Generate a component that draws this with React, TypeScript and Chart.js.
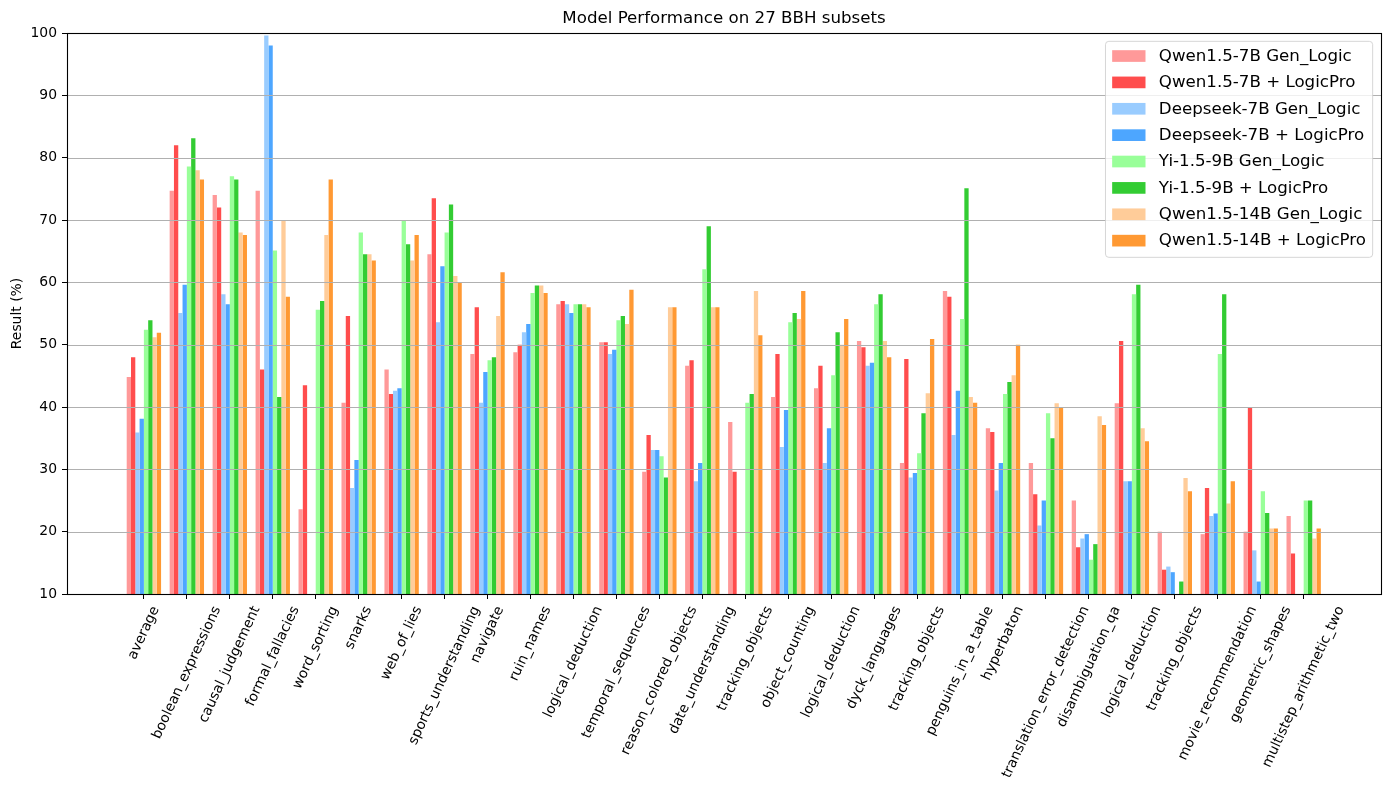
import React, { useEffect, useRef } from 'react';
import { Chart, registerables } from 'chart.js';

Chart.register(...registerables);

const categories = [
  'average', 'boolean_expressions', 'causal_judgement', 'formal_fallacies', 'word_sorting',
  'snarks', 'web_of_lies', 'sports_understanding', 'navigate', 'ruin_names',
  'logical_deduction', 'temporal_sequences', 'reason_colored_objects', 'date_understanding',
  'tracking_objects', 'object_counting', 'logical_deduction', 'dyck_languages',
  'tracking_objects', 'penguins_in_a_table', 'hyperbaton', 'translation_error_detection',
  'disambiguation_qa', 'logical_deduction', 'tracking_objects', 'movie_recommendation',
  'geometric_shapes', 'multistep_arithmetic_two',
];

const qwen7Gen = [44.8, 74.7, 74.0, 74.7, 23.6, 40.7, 46.0, 64.5, 48.5, 48.8, 56.5, 50.4, 29.6, 46.6, 37.6, 41.6, 43.0, 50.6, 31.0, 58.6, 36.6, 31.0, 25.0, 40.6, 20.0, 19.6, 20.0, 22.5];
const qwen7Pro = [48.0, 82.0, 72.0, 46.0, 43.5, 54.6, 42.1, 73.5, 56.0, 50.0, 57.0, 50.4, 35.5, 47.5, 29.6, 48.5, 46.6, 49.6, 47.7, 57.7, 36.0, 26.0, 17.5, 50.6, 13.9, 27.0, 39.9, 16.5];
const deepseekGen = [35.9, 55.1, 58.1, 99.6, null, 27.0, 42.6, 53.6, 40.7, 52.0, 56.5, 48.5, 33.1, 28.1, null, 33.6, 31.0, 46.6, 28.7, 35.5, 26.6, 21.0, 18.9, 28.1, 14.4, 22.5, 17.0, null];
const deepseekPro = [38.1, 59.6, 56.5, 98.0, null, 31.5, 43.0, 62.6, 45.6, 53.3, 55.1, 49.2, 33.1, 31.0, null, 39.5, 36.6, 47.1, 29.4, 42.6, 31.0, 25.0, 19.6, 28.1, 13.5, 22.9, 12.0, null];
const yiGen = [52.4, 78.6, 77.0, 65.1, 55.6, 68.0, 70.0, 68.0, 47.5, 58.3, 56.5, 53.9, 32.1, 62.1, 40.7, 53.6, 45.1, 56.5, 32.6, 54.1, 42.1, 39.0, 15.5, 58.1, null, 48.5, 26.5, 25.0];
const yiPro = [53.9, 83.1, 76.5, 41.6, 57.0, 64.5, 66.1, 72.5, 48.0, 59.5, 56.5, 54.6, 28.7, 69.0, 42.1, 55.1, 52.0, 58.1, 39.0, 75.1, 44.0, 35.0, 18.0, 59.6, 12.0, 58.1, 23.0, 25.0];
const qwen14Gen = [51.2, 78.0, 68.0, 70.0, 67.6, 64.5, 63.5, 61.0, 54.6, 59.5, 56.5, 53.3, 56.0, 56.0, 58.6, 54.1, 50.0, 50.6, 42.2, 41.6, 45.1, 40.6, 38.5, 36.6, 28.6, 24.5, 20.5, 18.9];
const qwen14Pro = [51.9, 76.5, 67.6, 57.7, 76.5, 63.5, 67.6, 60.0, 61.6, 58.3, 56.0, 58.8, 56.0, 56.0, 51.5, 58.6, 54.1, 48.0, 50.9, 40.7, 50.0, 39.9, 37.1, 34.5, 26.5, 28.1, 20.5, 20.5];

const seriesLabels = [
  'Qwen1.5-7B Gen_Logic', 'Qwen1.5-7B + LogicPro',
  'Deepseek-7B Gen_Logic', 'Deepseek-7B + LogicPro',
  'Yi-1.5-9B Gen_Logic', 'Yi-1.5-9B + LogicPro',
  'Qwen1.5-14B Gen_Logic', 'Qwen1.5-14B + LogicPro',
];
const seriesValues = [qwen7Gen, qwen7Pro, deepseekGen, deepseekPro, yiGen, yiPro, qwen14Gen, qwen14Pro];
const seriesColors = ['#ff9999', '#ff4d4d', '#99ccff', '#4da6ff', '#99ff99', '#33cc33', '#ffcc99', '#ff9933'];

const yTicks = [10, 20, 30, 40, 50, 60, 70, 80, 90, 100];

const FONT = '"DejaVu Sans", "Liberation Sans", sans-serif';
const TICK_FS = 13.9;
const LEGEND_FS = 16.67;

const overlayPlugin = {
  id: 'overlay',
  afterDatasetsDraw(chart: any) {
    const { ctx, chartArea: a, scales } = chart;
    const ys = scales.y;
    const xs = scales.x;
    ctx.save();

    // horizontal grid over bars (matplotlib default ordering)
    ctx.strokeStyle = '#b0b0b0';
    ctx.lineWidth = 1.1;
    ys.ticks.forEach((t: any) => {
      const py = Math.round(ys.getPixelForValue(t.value)) + 0.5;
      ctx.beginPath();
      ctx.moveTo(a.left, py);
      ctx.lineTo(a.right, py);
      ctx.stroke();
    });

    // frame
    ctx.strokeStyle = '#000';
    ctx.lineWidth = 1.1;
    const l = Math.round(a.left) + 0.5;
    const t = Math.round(a.top) + 0.5;
    const r = Math.round(a.right) + 0.5;
    const b = Math.round(a.bottom) + 0.5;
    ctx.strokeRect(l, t, r - l, b - t);

    // rotated x tick labels, centred under each tick (matplotlib ha='center')
    ctx.font = `${TICK_FS}px ${FONT}`;
    ctx.fillStyle = '#000';
    const ang = (65 * Math.PI) / 180;
    const h = TICK_FS * 1.164;
    const top = a.bottom + 9.7;
    categories.forEach((lab, i) => {
      const px = xs.getPixelForValue(i);
      const L = ctx.measureText(lab).width;
      const bh = L * Math.sin(ang) + h * Math.cos(ang);
      ctx.save();
      ctx.translate(px, top + bh / 2);
      ctx.rotate(-ang);
      ctx.textAlign = 'center';
      ctx.textBaseline = 'middle';
      ctx.fillText(lab, 0, 0);
      ctx.restore();
    });

    // legend
    const fs = LEGEND_FS;
    ctx.font = `${fs}px ${FONT}`;
    const bp = 0.4 * fs;
    const handleLen = 2 * fs;
    const handleH = 0.7 * fs;
    const textPad = 0.8 * fs;
    const ls = 0.5 * fs;
    const textH = 18.04;
    let maxW = 0;
    seriesLabels.forEach((s) => { maxW = Math.max(maxW, ctx.measureText(s).width); });
    const w = 2 * bp + handleLen + textPad + maxW;
    const hgt = 2 * bp + seriesLabels.length * textH + (seriesLabels.length - 1) * ls;
    const right = a.right - 0.5 * fs;
    const lx = right - w;
    const ly = a.top + 0.5 * fs;
    ctx.beginPath();
    ctx.roundRect(lx, ly, w, hgt, 0.2 * fs);
    ctx.fillStyle = 'rgba(255,255,255,0.8)';
    ctx.fill();
    ctx.strokeStyle = 'rgba(204,204,204,0.8)';
    ctx.lineWidth = 1;
    ctx.stroke();
    ctx.textAlign = 'left';
    ctx.textBaseline = 'middle';
    seriesLabels.forEach((s, i) => {
      const cy = ly + bp + textH / 2 - 1 + i * (textH + ls);
      ctx.fillStyle = seriesColors[i];
      ctx.fillRect(lx + bp, cy - handleH / 2, handleLen, handleH);
      ctx.fillStyle = '#000';
      ctx.fillText(s, lx + bp + handleLen + textPad, cy + 0.5);
    });

    ctx.restore();
  },
};

export default function App() {
  const ref = useRef<HTMLCanvasElement | null>(null);

  useEffect(() => {
    if (!ref.current) return;
    const datasets = seriesLabels.map((label, k) => ({
      label,
      data: seriesValues[k].map((v, i) => ({ x: i, y: v })),
      backgroundColor: seriesColors[k],
      borderWidth: 0,
      barPercentage: 1.0,
      categoryPercentage: 0.8,
    }));

    const chart = new Chart(ref.current, {
      type: 'bar',
      data: { datasets },
      options: {
        animation: false,
        responsive: false,
        devicePixelRatio: 1,
        layout: { padding: { left: 0, right: 8, top: 0, bottom: 0 } },
        plugins: {
          legend: { display: false },
          tooltip: { enabled: false },
          title: {
            display: true,
            text: 'Model Performance on 27 BBH subsets',
            color: '#000',
            font: { family: FONT, size: 16.67, weight: 'normal' },
            padding: { top: 9, bottom: 4 },
            fullSize: false,
          },
        },
        scales: {
          x: {
            type: 'linear',
            min: -1.79,
            max: 28.8,
            offset: false,
            afterBuildTicks: (axis: any) => {
              axis.ticks = categories.map((_, i) => ({ value: i }));
            },
            afterFit: (s: any) => { s.height = 196; },
            ticks: {
              autoSkip: false,
              minRotation: 65,
              maxRotation: 65,
              color: 'rgba(0,0,0,0)',
              font: { family: FONT, size: TICK_FS },
              callback: (v: any) => categories[v] ?? '',
            },
            grid: {
              offset: false,
              drawOnChartArea: false,
              drawTicks: true,
              tickLength: 5,
              tickColor: '#000',
              tickWidth: 1,
            },
            border: { display: true, color: '#000', width: 1 },
          },
          y: {
            type: 'linear',
            min: 10,
            max: 100,
            afterBuildTicks: (axis: any) => {
              axis.ticks = yTicks.map((v) => ({ value: v }));
            },
            afterFit: (s: any) => { s.width = 67; },
            ticks: {
              color: '#000',
              padding: 5,
              font: { family: FONT, size: TICK_FS },
              callback: (v: any) => String(v),
            },
            grid: {
              drawOnChartArea: false,
              drawTicks: true,
              tickLength: 5,
              tickColor: '#000',
              tickWidth: 1,
            },
            border: { display: true, color: '#000', width: 1 },
            title: {
              display: true,
              text: 'Result (%)',
              color: '#000',
              font: { family: FONT, size: TICK_FS },
              padding: { top: 9, bottom: 0 },
            },
          },
        },
      },
      plugins: [overlayPlugin],
    } as any);

    return () => chart.destroy();
  }, []);

  return (
    <div style={{ position: 'fixed', left: 0, top: 0, width: 1389, height: 790, background: '#fff' }}>
      <canvas ref={ref} width={1389} height={790} style={{ display: 'block' }} />
    </div>
  );
}
